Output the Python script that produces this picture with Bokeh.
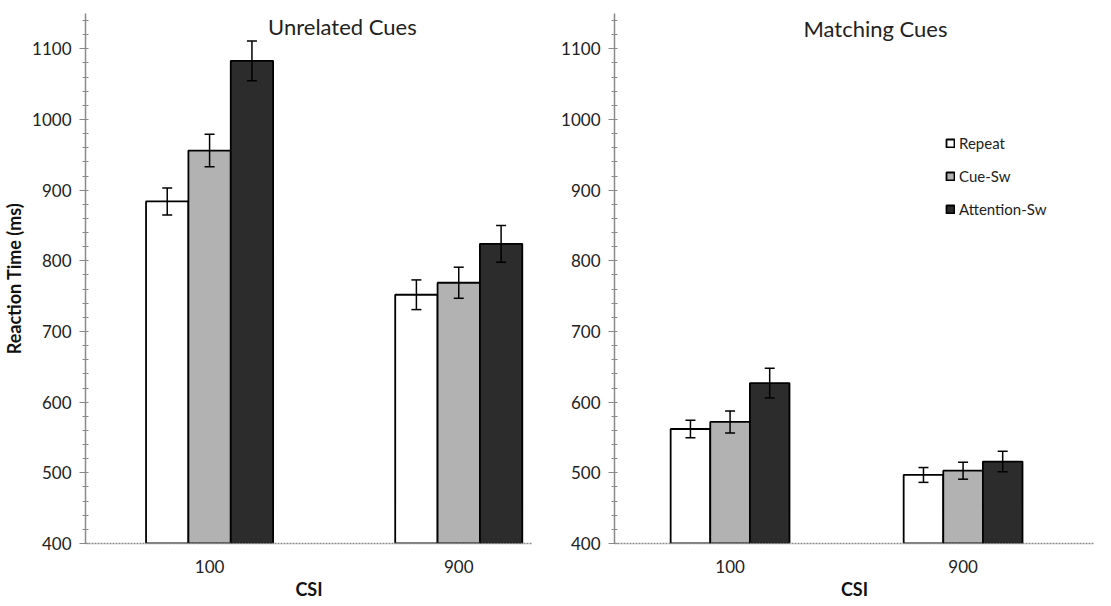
from bokeh.plotting import figure
from bokeh.models import (ColumnDataSource, Whisker, TeeHead, FixedTicker, SingleIntervalTicker,
                          Range1d, Legend, LegendItem, Label)
from bokeh.layouts import row
from bokeh.embed import file_html
from bokeh.resources import INLINE

# ---- data ----
csi = ["100", "900"]
conditions = ["Repeat", "Cue-Sw", "Attention-Sw"]

unrelated_repeat = [884, 752]
unrelated_repeat_err = [19, 21]
unrelated_cue = [956, 769]
unrelated_cue_err = [23, 22]
unrelated_attn = [1083, 824]
unrelated_attn_err = [28, 26]

matching_repeat = [562, 497]
matching_repeat_err = [12.5, 10.5]
matching_cue = [572, 503]
matching_cue_err = [15.5, 12]
matching_attn = [627, 516]
matching_attn_err = [21, 14.5]

titles = ["Unrelated Cues", "Matching Cues"]

FONT = "Lato"
fills = ["#ffffff", "#b2b2b2", "#2c2c2c"]
offsets = [-0.17, 0.0, 0.17]
BW = 0.17


def make_panel(title, series, errs, width, border_left, xr, title_pos, show_ylabel, legend_loc=None):
    p = figure(width=width, height=602, output_backend="svg", toolbar_location=None,
               x_range=Range1d(*xr), y_range=Range1d(400, 1150),
               min_border_left=border_left, min_border_right=0, min_border_top=13,
               min_border_bottom=56)
    p.outline_line_color = None
    p.xgrid.visible = False
    p.ygrid.visible = False
    p.background_fill_color = "white"

    renderers = []
    for k, (vals, err) in enumerate(zip(series, errs)):
        xs = [i + offsets[k] for i in range(len(csi))]
        src = ColumnDataSource(dict(x=xs, top=vals,
                                    upper=[v + e for v, e in zip(vals, err)],
                                    lower=[v - e for v, e in zip(vals, err)]))
        r = p.vbar(x="x", top="top", bottom=400, width=BW, source=src,
                   fill_color=fills[k], line_color="black", line_width=1.8)
        renderers.append(r)
        w = Whisker(source=src, base="x", upper="upper", lower="lower",
                    line_color="black", line_width=1.5, level="overlay",
                    upper_head=TeeHead(size=10, line_color="black", line_width=1.5),
                    lower_head=TeeHead(size=10, line_color="black", line_width=1.5))
        p.add_layout(w)

    # axes
    p.xaxis.ticker = FixedTicker(ticks=list(range(len(csi))))
    p.xaxis.major_label_overrides = {i: c for i, c in enumerate(csi)}
    p.xaxis.major_tick_out = 0
    p.xaxis.major_tick_in = 0
    p.xaxis.minor_tick_out = 0
    p.xaxis.axis_line_color = "#8a8a8a"
    p.xaxis.axis_line_dash = "2 1"
    p.xaxis.axis_line_width = 1.5
    p.xaxis.major_label_text_font = FONT
    p.xaxis.major_label_text_font_size = "17px"
    p.xaxis.major_label_text_color = "#222222"
    p.xaxis.major_label_standoff = 16
    p.xaxis.axis_label = "CSI"
    p.xaxis.axis_label_text_font = FONT
    p.xaxis.axis_label_text_font_style = "bold"
    p.xaxis.axis_label_text_font_size = "18px"
    p.xaxis.axis_label_text_color = "#111111"
    p.xaxis.axis_label_standoff = 2

    p.yaxis.ticker = SingleIntervalTicker(interval=100, num_minor_ticks=5)
    p.yaxis.axis_line_color = "#8a8a8a"
    p.yaxis.axis_line_width = 1.5
    p.yaxis.major_tick_line_color = "#8a8a8a"
    p.yaxis.minor_tick_line_color = "#8a8a8a"
    p.yaxis.major_tick_out = 6
    p.yaxis.major_tick_in = 0
    p.yaxis.minor_tick_out = 3
    p.yaxis.minor_tick_in = 3
    p.yaxis.major_label_text_font = FONT
    p.yaxis.major_label_text_font_size = "17px"
    p.yaxis.major_label_text_color = "#222222"
    p.yaxis.major_label_standoff = 8
    if show_ylabel:
        p.yaxis.axis_label = "Reaction Time (ms)"
        p.yaxis.axis_label_text_font = FONT
        p.yaxis.axis_label_text_font_style = "bold"
        p.yaxis.axis_label_text_font_size = "18px"
        p.yaxis.axis_label_text_color = "#111111"
        p.yaxis.axis_label_standoff = 4

    lab = Label(x=title_pos[0], y=title_pos[1], text=title, text_font=FONT,
                text_font_size="22px", text_color="#222222",
                text_align="center", text_baseline="middle")
    p.add_layout(lab)

    if legend_loc is not None:
        items = [LegendItem(label=c, renderers=[r]) for c, r in zip(conditions, renderers)]
        leg = Legend(items=items, location=legend_loc, padding=0, margin=0,
                     glyph_width=10, glyph_height=10, label_standoff=4, spacing=15,
                     label_text_font=FONT, label_text_font_size="15px",
                     label_text_color="#222222", background_fill_alpha=0,
                     border_line_alpha=0)
        p.add_layout(leg)
    return p


p1 = make_panel(titles[0], [unrelated_repeat, unrelated_cue, unrelated_attn],
                [unrelated_repeat_err, unrelated_cue_err, unrelated_attn_err],
                width=532, border_left=78, xr=(-0.498, 1.296),
                title_pos=(0.533, 1132), show_ylabel=True)
p2 = make_panel(titles[1], [matching_repeat, matching_cue, matching_attn],
                [matching_repeat_err, matching_cue_err, matching_attn_err],
                width=562, border_left=82, xr=(-0.496, 1.564),
                title_pos=(0.624, 1129), show_ylabel=False, legend_loc=(331, 325))

layout = row(p1, p2, spacing=0)
open("out.html", "w").write(file_html(layout, INLINE))
